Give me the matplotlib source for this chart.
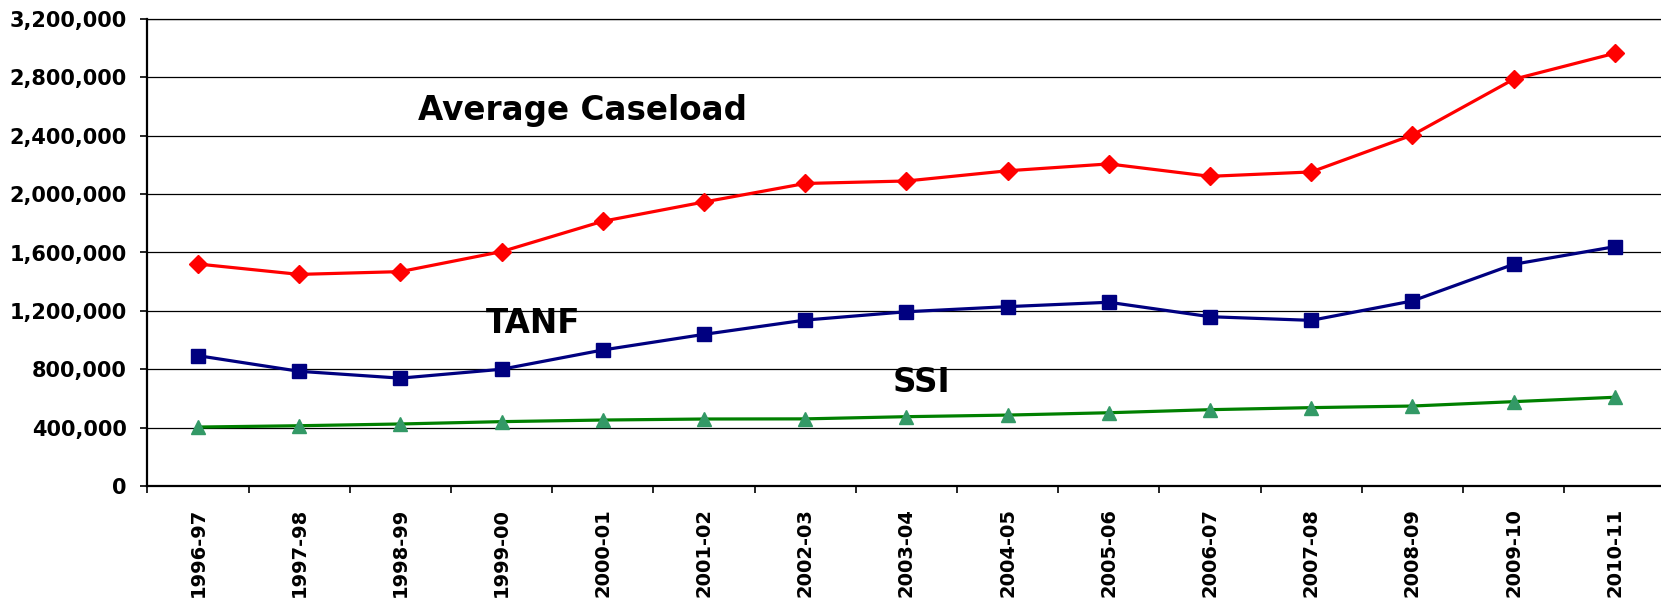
import matplotlib
matplotlib.use("Agg")
import matplotlib.pyplot as plt
from matplotlib.ticker import FuncFormatter, FixedLocator

# Fiscal years and average monthly caseloads
years = ["1996-97", "1997-98", "1998-99", "1999-00", "2000-01", "2001-02",
         "2002-03", "2003-04", "2004-05", "2005-06", "2006-07", "2007-08",
         "2008-09", "2009-10", "2010-11"]
caseload = [1521000, 1450000, 1469000, 1606000, 1814000, 1946000, 2073000,
            2090000, 2160000, 2207000, 2122000, 2152000, 2405000, 2787000,
            2965000]
tanf = [893000, 786000, 739000, 800000, 932000, 1039000, 1137000, 1194000,
        1229000, 1259000, 1160000, 1135000, 1268000, 1519000, 1640000]
ssi = [404000, 413000, 425000, 441000, 452000, 459000, 460000, 475000,
       486000, 502000, 523000, 537000, 548000, 578000, 608000]
y_ticks = [0, 400000, 800000, 1200000, 1600000, 2000000, 2400000, 2800000,
           3200000]

plt.rcParams["font.family"] = ["DejaVu Sans"]
plt.rcParams["font.weight"] = "bold"

W, H = 1661, 603
fig = plt.figure(figsize=(W / 100, H / 100), dpi=100)
ax = fig.add_axes([147.4 / W, 117 / H, 1518 / W, 467 / H])

xs = list(range(len(years)))

ax.plot(xs, caseload, color="#FF0000", lw=2.3, marker="D", ms=9,
        mfc="#FF0000", mec="#FF0000", mew=1, zorder=3)
ax.plot(xs, tanf, color="#000080", lw=2.3, marker="s", ms=10.5,
        mfc="#000080", mec="#000080", mew=1, zorder=3)
ax.plot(xs, ssi, color="#008000", lw=2.3, marker="^", ms=10.5,
        mfc="#339966", mec="#339966", mew=1, zorder=3)

ax.set_xlim(-0.5, len(years) - 0.5)
ax.set_ylim(0, 3200000)

# y axis
ax.yaxis.set_major_locator(FixedLocator(y_ticks))
ax.yaxis.set_major_formatter(FuncFormatter(lambda v, p: f"{int(v):,}"))
ax.tick_params(axis="y", which="major", direction="out", length=5,
               width=1.2, pad=10, labelsize=15)
ax.grid(axis="y", color="#000000", lw=0.9, zorder=1)

# x axis: labels at category centres, tick marks between categories
ax.set_xticks(xs)
ax.set_xticklabels(years, rotation=90, ha="center", va="top")
ax.set_xticks([i - 0.5 for i in range(len(years) + 1)], minor=True)
ax.tick_params(axis="x", which="major", length=0, pad=16, labelsize=14)
ax.tick_params(axis="x", which="minor", direction="out", length=5,
               width=1.2)

ax.spines["right"].set_visible(False)
ax.spines["top"].set_linewidth(0.9)
ax.spines["left"].set_linewidth(1.6)
ax.spines["bottom"].set_linewidth(1.6)
ax.set_axisbelow(True)

# Series labels
ax.text(3.80, 2508000, "Average Caseload", ha="center", va="baseline",
        fontsize=23.5, fontweight="bold")
ax.text(3.31, 1048000, "TANF", ha="center", va="baseline",
        fontsize=23.5, fontweight="bold")
ax.text(7.15, 644000, "SSI", ha="center", va="baseline",
        fontsize=23.5, fontweight="bold")

fig.savefig("out.png", dpi=100)
